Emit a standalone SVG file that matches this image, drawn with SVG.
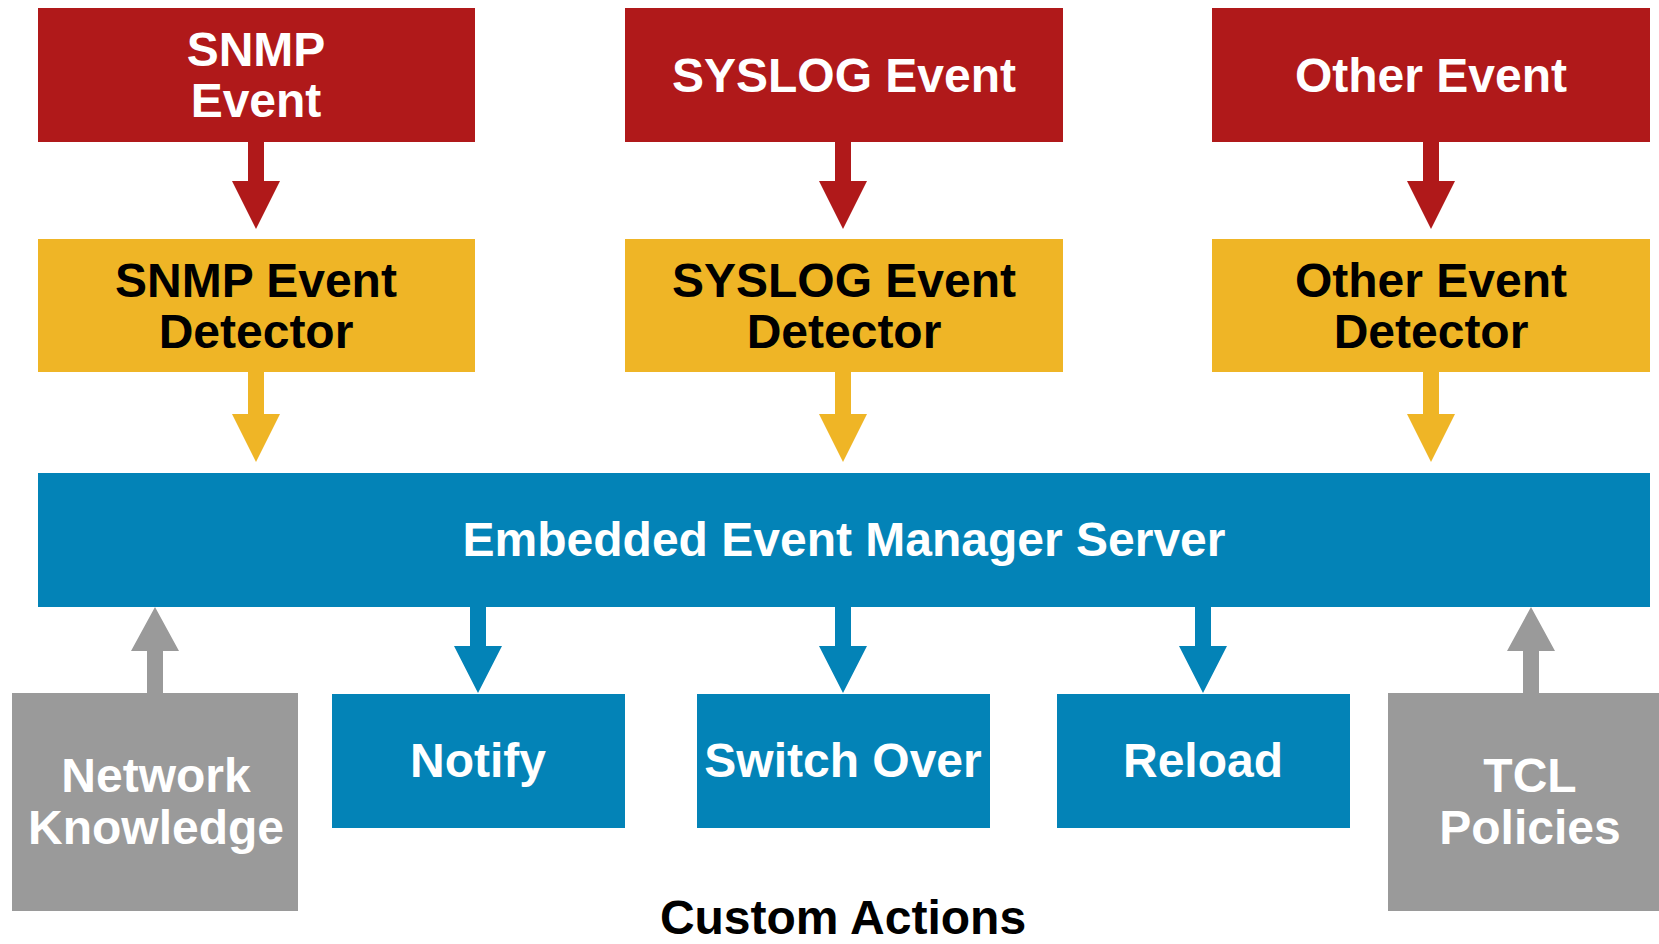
<svg xmlns="http://www.w3.org/2000/svg" width="1659" height="944" viewBox="0 0 1659 944">
<style>
.t{font-family:"Liberation Sans",Arial,sans-serif;font-weight:bold;font-size:48px;text-anchor:middle}
.w{fill:#ffffff}
.k{fill:#000000}
.red{fill:#B0191A}
.yel{fill:#EFB526}
.blu{fill:#0383B7}
.gry{fill:#9A9A9A}
</style>
<rect width="1659" height="944" fill="#ffffff"/>
<g id="connectors">
<polygon class="red" points="248,142 264,142 264,181 280,181 256,229 232,181 248,181"/>
<polygon class="red" points="835,142 851,142 851,181 867,181 843,229 819,181 835,181"/>
<polygon class="red" points="1423,142 1439,142 1439,181 1455,181 1431,229 1407,181 1423,181"/>
<polygon class="yel" points="248,372 264,372 264,414 280,414 256,462 232,414 248,414"/>
<polygon class="yel" points="835,372 851,372 851,414 867,414 843,462 819,414 835,414"/>
<polygon class="yel" points="1423,372 1439,372 1439,414 1455,414 1431,462 1407,414 1423,414"/>
<polygon class="blu" points="470,606 486,606 486,646 502,646 478,693 454,646 470,646"/>
<polygon class="blu" points="835,606 851,606 851,646 867,646 843,693 819,646 835,646"/>
<polygon class="blu" points="1195,606 1211,606 1211,646 1227,646 1203,693 1179,646 1195,646"/>
<polygon class="gry" points="147,694 163,694 163,651 179,651 155,607 131,651 147,651"/>
<polygon class="gry" points="1523,694 1539,694 1539,651 1555,651 1531,607 1507,651 1523,651"/>
</g>
<g id="snmp-event"><rect class="red" x="38" y="8" width="437" height="134"/><text class="t w" x="256" y="66">SNMP</text><text class="t w" x="256" y="117">Event</text></g>
<g id="syslog-event"><rect class="red" x="625" y="8" width="438" height="134"/><text class="t w" x="844" y="92">SYSLOG Event</text></g>
<g id="other-event"><rect class="red" x="1212" y="8" width="438" height="134"/><text class="t w" x="1431" y="92">Other Event</text></g>
<g id="snmp-detector"><rect class="yel" x="38" y="239" width="437" height="133"/><text class="t k" x="256" y="297">SNMP Event</text><text class="t k" x="256" y="348">Detector</text></g>
<g id="syslog-detector"><rect class="yel" x="625" y="239" width="438" height="133"/><text class="t k" x="844" y="297">SYSLOG Event</text><text class="t k" x="844" y="348">Detector</text></g>
<g id="other-detector"><rect class="yel" x="1212" y="239" width="438" height="133"/><text class="t k" x="1431" y="297">Other Event</text><text class="t k" x="1431" y="348">Detector</text></g>
<g id="eem-server"><rect class="blu" x="38" y="473" width="1612" height="134"/><text class="t w" x="844" y="556">Embedded Event Manager Server</text></g>
<g id="network-knowledge"><rect class="gry" x="12" y="693" width="286" height="218"/><text class="t w" x="156" y="792">Network</text><text class="t w" x="156" y="844">Knowledge</text></g>
<g id="notify"><rect class="blu" x="332" y="694" width="293" height="134"/><text class="t w" x="478" y="777">Notify</text></g>
<g id="switch-over"><rect class="blu" x="697" y="694" width="293" height="134"/><text class="t w" x="843" y="777">Switch Over</text></g>
<g id="reload"><rect class="blu" x="1057" y="694" width="293" height="134"/><text class="t w" x="1203" y="777">Reload</text></g>
<g id="tcl-policies"><rect class="gry" x="1388" y="693" width="290" height="218"/><text class="t w" x="1530" y="792">TCL</text><text class="t w" x="1530" y="844">Policies</text></g>
<g id="custom-actions-label"><text class="t k" x="843" y="934">Custom Actions</text></g>
</svg>
